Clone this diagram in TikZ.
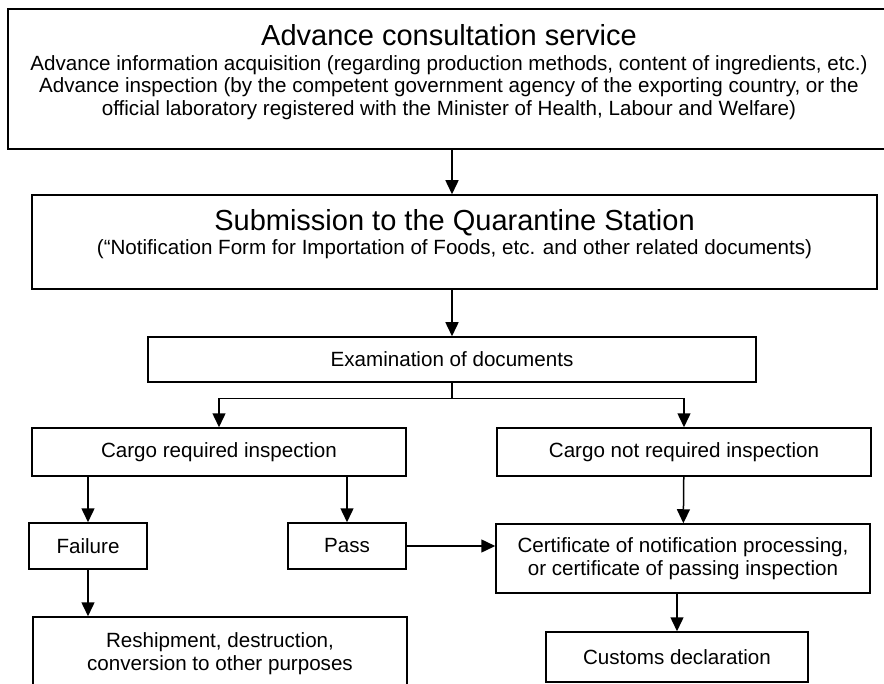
\documentclass[tikz,border=0pt]{standalone}
\usepackage{fontspec}
\setmainfont{Liberation Sans}
\usetikzlibrary{calc,positioning,arrows.meta}

\begin{document}
\begin{tikzpicture}[
  x=0.5pt,y=-0.5pt,
  box/.style={rectangle,draw=black,line width=0.75pt,inner sep=0pt,align=center,font=\fontsize{10.3}{11.3}\selectfont},
  flow/.style={-{Triangle[length=7pt,width=6.5pt]},line width=0.75pt},
  ]

  \useasboundingbox (0,0) rectangle (884,684);
  \clip (0,0) rectangle (884,684);

  %consultation
  \node (adv) [box,minimum width=441pt,minimum height=70pt,text depth=9pt] at (449,79)
    {{\fontsize{14.5}{16}\selectfont Advance consultation service}\\[1pt]
     Advance information acquisition (regarding production methods, content of ingredients, etc.)\\
     Advance inspection (by the competent government agency of the exporting country, or the\\
     official laboratory registered with the Minister of Health, Labour and Welfare)};

  %submission
  \node (sub) [box,minimum width=422.5pt,minimum height=47pt,text depth=10pt] at (454.5,242)
    {{\fontsize{14.5}{16}\selectfont Submission to the Quarantine Station}\\[1pt]
     (“Notification Form for Importation of Foods, etc. and other related documents)};

  %examination
  \node (exam) [box,minimum width=304pt,minimum height=22.5pt] at (452,359.5) {Examination of documents};

  %inspection or not
  \node (req) [box,minimum width=187pt,minimum height=24pt] at (219,452) {Cargo required inspection};
  \node (notreq) [box,minimum width=187pt,minimum height=24pt] at (684,452) {Cargo not required inspection};

  %result
  \node (fail) [box,minimum width=59pt,minimum height=23pt] at (88,546) {Failure};
  \node (pass) [box,minimum width=59pt,minimum height=23pt] at (347,546) {Pass};
  \node (cert) [box,minimum width=187pt,minimum height=34.5pt] at (683,558.5)
    {Certificate of notification processing,\\or certificate of passing inspection};

  %end
  \node (resh) [box,minimum width=187pt,minimum height=36.5pt] at (220,653.5)
    {Reshipment, destruction,\\conversion to other purposes};
  \node (cust) [box,minimum width=131pt,minimum height=25pt] at (677,657) {Customs declaration};

  %arrows
  \draw[flow] (exam |- adv.south) -- (exam |- sub.north);
  \draw[flow] (exam |- sub.south) -- (exam);
  \draw[line width=0.75pt] (exam.south) -- ++(0,16) coordinate (split);
  \draw[flow] (split) -| (req.north);
  \draw[flow] (split) -| (notreq.north);
  \draw[flow] (req.south -| fail) -- (fail);
  \draw[flow] (req.south -| pass) -- (pass);
  \draw[flow] (notreq) -- (cert);
  \draw[flow] (pass) -- (pass -| cert.west);
  \draw[flow] (fail) -- (fail |- resh.north);
  \draw[flow] (cert.south -| cust) -- (cust);

\end{tikzpicture}
\end{document}
